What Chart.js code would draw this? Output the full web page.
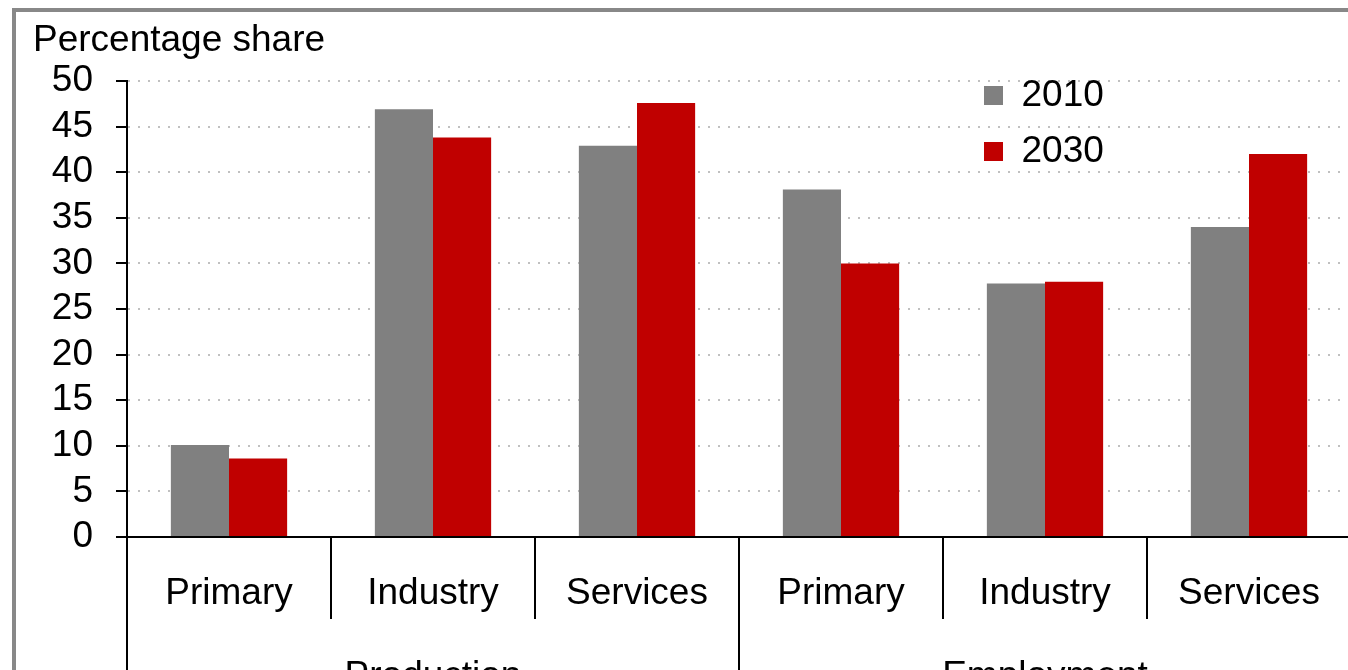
<!DOCTYPE html>
<html>
<head>
<meta charset="utf-8">
<script src="https://cdn.jsdelivr.net/npm/chart.js@4.4.1/dist/chart.umd.min.js"></script>
<style>
  html, body { margin: 0; padding: 0; overflow: hidden; background: #fff; }
  #marco { position: absolute; left: 12px; top: 8px; width: 1360px; height: 720px; border: 4px solid #888; }
  #myChart { position: absolute; left: 17px; top: 0; }
</style>
</head>
<body>
<div id="marco"><canvas id="myChart" width="1318" height="681"></canvas></div>
<script>
const categorias = ["Primary", "Industry", "Services", "Primary", "Industry", "Services"];
const grupos = ["Production", "Employment"];
const series = ["2010", "2030"];
const datos2010 = [10.1, 46.9, 42.9, 38.1, 27.8, 34.0];
const datos2030 = [8.6, 43.8, 47.6, 30.0, 28.0, 42.0];
const colores = ["#808080", "#C00000"];

Chart.defaults.font.family = "'Liberation Sans', Arial, sans-serif";
Chart.defaults.font.size = 37;
Chart.defaults.color = "#000";

// mueve la leyenda dentro del area, arriba a la derecha
const leyendaDentro = {
  id: "leyendaDentro",
  afterLayout(chart) {
    chart.legend.left = chart.chartArea.left + 838;
    chart.legend.top = chart.chartArea.top - 23;
  },
};

var config = {
  type: "bar",
  data: {
    labels: categorias,
    datasets: [
      { label: series[0], data: datos2010, backgroundColor: colores[0], borderWidth: 0 },
      { label: series[1], data: datos2030, backgroundColor: colores[1], borderWidth: 0 },
    ],
  },
  options: {
    responsive: false,
    animation: false,
    categoryPercentage: 0.57,
    barPercentage: 1.0,
    layout: { padding: 0 },
    plugins: {
      tooltip: { enabled: false },
      title: {
        display: true,
        text: "Percentage share",
        align: "start",
        font: { size: 37, weight: "normal" },
        color: "#000",
        padding: { top: 7, bottom: 17.6 },
      },
      legend: {
        position: "chartArea",
        align: "start",
        labels: { boxWidth: 19, boxHeight: 19, padding: 19, font: { size: 37 }, color: "#000" },
      },
    },
    scales: {
      y: {
        min: 0,
        max: 50,
        ticks: { stepSize: 5, padding: 23, autoSkip: false, color: "#000" },
        afterFit: (scale) => { scale.width = 94; },
        grid: {
          color: (ctx) => (ctx.tick && ctx.tick.value === 0 ? "rgba(0,0,0,0)" : "#c0c0c0"),
          lineWidth: 2,
          tickLength: 11,
          tickColor: "#000",
          tickWidth: 2,
          tickBorderDash: [],
        },
        border: { display: true, color: "#000", width: 2, dash: [2, 8] },
      },
      x: {
        type: "category",
        offset: true,
        afterFit: (scale) => { scale.height = 76; },
        grid: {
          offset: true,
          drawOnChartArea: false,
          tickLength: 82,
          color: "#000",
          lineWidth: 2,
          tickColor: "#000",
          tickWidth: 2,
        },
        border: { display: true, color: "#000", width: 2 },
        ticks: { padding: -47, autoSkip: false, maxRotation: 0, color: "#000" },
      },
      x2: {
        type: "category",
        labels: grupos,
        position: "bottom",
        weight: 1,
        offset: true,
        afterFit: (scale) => { scale.height = 80; },
        grid: {
          offset: true,
          drawOnChartArea: false,
          tickLength: 120,
          color: "#000",
          lineWidth: 2,
          tickColor: "#000",
          tickWidth: 2,
        },
        border: { display: false },
        ticks: { padding: -78.7, autoSkip: false, maxRotation: 0, color: "#000" },
      },
    },
  },
  plugins: [leyendaDentro],
};

var ctx = document.getElementById("myChart").getContext("2d");
var myChart = new Chart(ctx, config);
</script>
</body>
</html>
